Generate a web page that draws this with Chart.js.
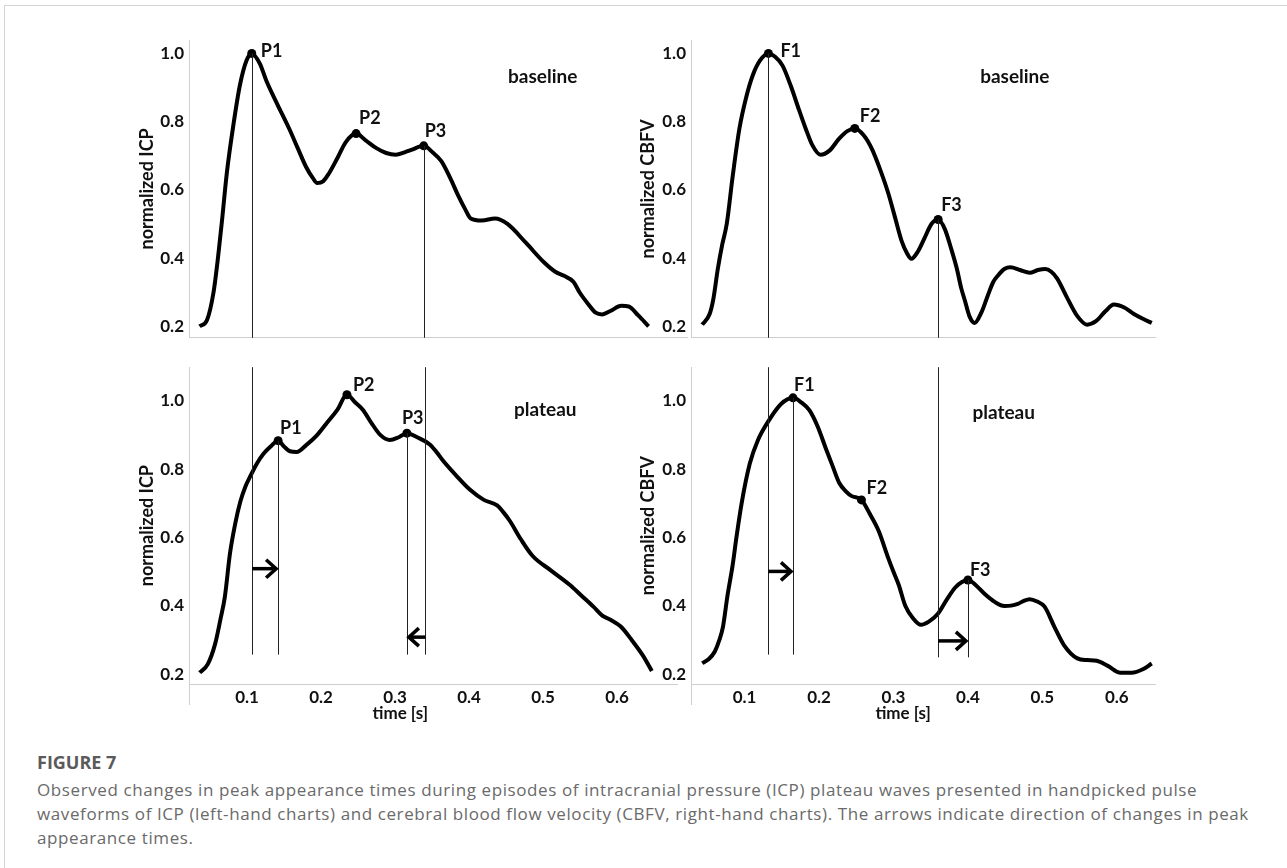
<!DOCTYPE html>
<html>
<head>
<meta charset="utf-8">
<script src="https://cdn.jsdelivr.net/npm/chart.js@4.4.1/dist/chart.umd.min.js"></script>
<style>
  body { margin: 0; background: #fff; width: 1287px; height: 868px; overflow: hidden; position: relative; }
  #frame { position: absolute; left: 4px; top: 5px; right: 0; bottom: 0; border-top: 1px solid #d3d3d3; border-left: 1px solid #d3d3d3; }
  canvas { position: absolute; }
  #tl { left: 130px; top: 0; }
  #bl { left: 130px; top: 352px; }
  #tr { left: 630px; top: 0; }
  #br { left: 630px; top: 352px; }
  #caption { position: absolute; left: 37px; top: 750px; font-family: "Open Sans", sans-serif; color: #666; }
  #caption .head { font-weight: bold; font-size: 18px; color: #5a5a5a; line-height: 24px; }
  #caption .text { font-size: 17px; letter-spacing: 0.6px; line-height: 24px; margin-top: 4px; color: #6a6a6a; }
</style>
</head>
<body>
<div id="frame"></div>
<canvas id="tl" width="562" height="353"></canvas>
<canvas id="tr" width="530" height="353"></canvas>
<canvas id="bl" width="562" height="388"></canvas>
<canvas id="br" width="530" height="388"></canvas>
<div id="caption">
  <div class="head">FIGURE 7</div>
  <div class="text">Observed changes in peak appearance times during episodes of intracranial pressure (ICP) plateau waves presented in handpicked pulse<br>waveforms of ICP (left-hand charts) and cerebral blood flow velocity (CBFV, right-hand charts). The arrows indicate direction of changes in peak<br>appearance times.</div>
</div>
<script>
// tick labels
var xTicks = [0.1, 0.2, 0.3, 0.4, 0.5, 0.6];
var yTicks = [0.2, 0.4, 0.6, 0.8, 1.0];

// ICP pulse, baseline (time [s], normalized ICP)
var icpBaseT = [0.036, 0.046, 0.055, 0.061, 0.067, 0.073, 0.082, 0.091, 0.100, 0.107, 0.118, 0.127, 0.142, 0.158, 0.170, 0.181, 0.190, 0.196, 0.204, 0.212, 0.224, 0.235, 0.249, 0.262, 0.276, 0.290, 0.303, 0.315, 0.324, 0.341, 0.353, 0.365, 0.377, 0.388, 0.397, 0.405, 0.420, 0.438, 0.455, 0.480, 0.505, 0.520, 0.532, 0.545, 0.553, 0.565, 0.575, 0.584, 0.595, 0.610, 0.620, 0.633, 0.647];
var icpBaseV = [0.200, 0.218, 0.300, 0.400, 0.520, 0.648, 0.790, 0.908, 0.980, 1.000, 0.970, 0.919, 0.850, 0.779, 0.720, 0.667, 0.635, 0.620, 0.625, 0.648, 0.695, 0.740, 0.765, 0.745, 0.723, 0.708, 0.703, 0.710, 0.717, 0.729, 0.710, 0.684, 0.635, 0.583, 0.545, 0.516, 0.510, 0.516, 0.500, 0.445, 0.387, 0.360, 0.348, 0.330, 0.300, 0.265, 0.240, 0.235, 0.245, 0.260, 0.258, 0.232, 0.200];

// ICP pulse, plateau
var icpPlatT = [0.036, 0.047, 0.057, 0.064, 0.070, 0.077, 0.084, 0.091, 0.098, 0.104, 0.113, 0.122, 0.132, 0.142, 0.150, 0.158, 0.167, 0.180, 0.195, 0.208, 0.222, 0.235, 0.246, 0.257, 0.268, 0.280, 0.293, 0.305, 0.316, 0.330, 0.347, 0.356, 0.365, 0.383, 0.401, 0.420, 0.438, 0.446, 0.455, 0.470, 0.486, 0.510, 0.536, 0.552, 0.568, 0.580, 0.591, 0.605, 0.620, 0.635, 0.647];
var icpPlatV = [0.205, 0.230, 0.290, 0.360, 0.426, 0.554, 0.640, 0.705, 0.750, 0.777, 0.815, 0.844, 0.866, 0.883, 0.866, 0.852, 0.850, 0.870, 0.900, 0.935, 0.973, 1.017, 0.995, 0.972, 0.935, 0.900, 0.885, 0.893, 0.905, 0.893, 0.872, 0.850, 0.824, 0.780, 0.740, 0.710, 0.694, 0.675, 0.649, 0.595, 0.546, 0.505, 0.462, 0.430, 0.398, 0.372, 0.360, 0.340, 0.300, 0.255, 0.210];

// CBFV pulse, baseline (normalized CBFV)
var cbfvBaseT = [0.043, 0.053, 0.058, 0.064, 0.070, 0.076, 0.084, 0.093, 0.102, 0.111, 0.121, 0.132, 0.141, 0.151, 0.162, 0.173, 0.182, 0.191, 0.202, 0.214, 0.227, 0.238, 0.248, 0.260, 0.271, 0.282, 0.293, 0.302, 0.311, 0.318, 0.324, 0.333, 0.342, 0.351, 0.360, 0.369, 0.378, 0.385, 0.391, 0.396, 0.402, 0.409, 0.418, 0.427, 0.434, 0.440, 0.449, 0.457, 0.470, 0.483, 0.494, 0.504, 0.512, 0.520, 0.533, 0.547, 0.560, 0.572, 0.585, 0.596, 0.610, 0.623, 0.635, 0.647];
var cbfvBaseV = [0.205, 0.236, 0.280, 0.368, 0.440, 0.500, 0.640, 0.779, 0.870, 0.936, 0.980, 1.000, 0.990, 0.964, 0.905, 0.835, 0.780, 0.731, 0.703, 0.715, 0.750, 0.772, 0.780, 0.760, 0.720, 0.660, 0.590, 0.520, 0.450, 0.415, 0.398, 0.420, 0.460, 0.500, 0.513, 0.485, 0.424, 0.370, 0.312, 0.275, 0.230, 0.210, 0.240, 0.292, 0.330, 0.348, 0.368, 0.373, 0.365, 0.357, 0.365, 0.368, 0.360, 0.340, 0.285, 0.230, 0.205, 0.215, 0.245, 0.264, 0.255, 0.236, 0.222, 0.210];

// CBFV pulse, plateau
var cbfvPlatT = [0.043, 0.052, 0.060, 0.066, 0.071, 0.077, 0.084, 0.089, 0.096, 0.107, 0.118, 0.132, 0.149, 0.165, 0.176, 0.187, 0.198, 0.209, 0.218, 0.227, 0.236, 0.244, 0.257, 0.268, 0.280, 0.293, 0.300, 0.307, 0.316, 0.326, 0.337, 0.348, 0.360, 0.372, 0.383, 0.392, 0.400, 0.411, 0.423, 0.436, 0.449, 0.458, 0.467, 0.475, 0.483, 0.493, 0.503, 0.516, 0.529, 0.547, 0.560, 0.573, 0.588, 0.605, 0.620, 0.635, 0.647];
var cbfvPlatV = [0.233, 0.245, 0.267, 0.300, 0.340, 0.430, 0.520, 0.600, 0.700, 0.816, 0.885, 0.940, 0.990, 1.008, 0.995, 0.972, 0.925, 0.861, 0.810, 0.760, 0.735, 0.721, 0.710, 0.670, 0.620, 0.540, 0.500, 0.462, 0.400, 0.365, 0.345, 0.355, 0.378, 0.420, 0.454, 0.470, 0.476, 0.460, 0.434, 0.412, 0.400, 0.401, 0.406, 0.415, 0.420, 0.413, 0.398, 0.340, 0.286, 0.247, 0.242, 0.240, 0.225, 0.205, 0.205, 0.215, 0.232];

// marked peaks
var icpBasePeakT = [0.107, 0.249, 0.341];
var icpBasePeakV = [1.000, 0.765, 0.729];
var icpPlatPeakT = [0.142, 0.235, 0.316];
var icpPlatPeakV = [0.883, 1.017, 0.905];
var cbfvBasePeakT = [0.132, 0.248, 0.360];
var cbfvBasePeakV = [1.000, 0.780, 0.513];
var cbfvPlatPeakT = [0.165, 0.257, 0.400];
var cbfvPlatPeakV = [1.008, 0.710, 0.476];
var icpPeakNames = ['P1', 'P2', 'P3'];
var cbfvPeakNames = ['F1', 'F2', 'F3'];

// level where the drop lines end, and levels of the shift arrows
var icpLineEnd = [0.258, 0.258];
var cbfvLineEnd = [0.258, 0.250];
var icpArrowV = [0.509, 0.309];
var cbfvArrowV = [0.501, 0.298];

var tickFont = { family: 'Lato', size: 17, weight: 'bold' };
var axisColor = '#cfcfcf';

var overlay = {
  id: 'overlay',
  afterDatasetsDraw: function(chart, args, o) {
    var ctx = chart.ctx, a = chart.chartArea, x = chart.scales.x, y = chart.scales.y;
    ctx.save();
    // drop lines through the peaks
    ctx.strokeStyle = '#222';
    ctx.lineWidth = 1;
    (o.lines || []).forEach(function(l) {
      var px = Math.round(x.getPixelForValue(l.t)) + 0.5;
      var y1 = l.from == null ? a.top : y.getPixelForValue(l.from);
      var y2 = l.to == null ? a.bottom : y.getPixelForValue(l.to);
      ctx.beginPath(); ctx.moveTo(px, y1); ctx.lineTo(px, y2); ctx.stroke();
    });
    // arrows
    ctx.lineWidth = 3.5;
    ctx.strokeStyle = '#000';
    (o.arrows || []).forEach(function(ar) {
      var x1 = x.getPixelForValue(ar.from), x2 = x.getPixelForValue(ar.to);
      var py = y.getPixelForValue(ar.v);
      var d = x2 > x1 ? 1 : -1;
      ctx.beginPath(); ctx.moveTo(x1, py); ctx.lineTo(x2 - d * 2, py); ctx.stroke();
      ctx.beginPath();
      ctx.moveTo(x2 - d * 12, py - 9); ctx.lineTo(x2 - d * 2, py); ctx.lineTo(x2 - d * 12, py + 9);
      ctx.stroke();
    });
    // peak names
    ctx.fillStyle = '#111';
    ctx.font = 'bold 18px Lato';
    ctx.textAlign = 'left';
    ctx.textBaseline = 'middle';
    (o.names || []).forEach(function(n, i) {
      ctx.fillText(n, x.getPixelForValue(o.peakT[i]) + o.nameOff[i][0], y.getPixelForValue(o.peakV[i]) + o.nameOff[i][1]);
    });
    // panel name
    ctx.font = 'bold 19px Lato';
    ctx.textAlign = 'center';
    ctx.fillText(o.title, x.getPixelForValue(o.titleAt[0]), y.getPixelForValue(o.titleAt[1]));
    // time axis title and the y axis running on below the time axis
    if (o.xTitleAt != null) {
      ctx.font = 'bold 17px Lato';
      ctx.fillText('time [s]', x.getPixelForValue(o.xTitleAt), a.bottom + 30);
      ctx.strokeStyle = axisColor; ctx.lineWidth = 1;
      ctx.beginPath(); ctx.moveTo(a.left + 0.5, a.bottom); ctx.lineTo(a.left + 0.5, a.bottom + 21); ctx.stroke();
    }
    ctx.restore();
  }
};

function pts(ts, vs) {
  return ts.map(function(t, i) { return { x: t, y: vs[i] }; });
}

function panel(id, c) {
  var bottom = c.bottomRow;
  return new Chart(document.getElementById(id), {
    type: 'line',
    data: {
      datasets: [{
        data: pts(c.t, c.v),
        borderColor: '#000',
        borderWidth: 4,
        pointRadius: 0,
        cubicInterpolationMode: 'monotone',
        fill: false
      }, {
        data: pts(c.peakT, c.peakV),
        showLine: false,
        pointRadius: 4.5,
        pointBorderWidth: 0,
        pointBackgroundColor: '#000'
      }]
    },
    options: {
      responsive: false,
      animation: false,
      events: [],
      layout: { padding: c.pad },
      plugins: {
        legend: { display: false },
        tooltip: { enabled: false },
        overlay: c.overlay
      },
      scales: {
        x: {
          type: 'linear',
          min: c.xMin,
          max: c.xMax,
          afterBuildTicks: function(s) { s.ticks = xTicks.map(function(v) { return { value: v }; }); },
          ticks: { display: bottom, font: tickFont, color: '#111', padding: 3, maxRotation: 0,
                   callback: function(v) { return v.toFixed(1); } },
          grid: { display: false, drawTicks: false },
          border: { color: axisColor },
          afterFit: function(s) { s.height = bottom ? 56 : 0; }
        },
        y: {
          min: c.yMin,
          max: c.yMax,
          afterBuildTicks: function(s) { s.ticks = yTicks.map(function(v) { return { value: v }; }); },
          ticks: { font: tickFont, color: '#111', padding: 5, callback: function(v) { return v.toFixed(1); } },
          grid: { display: false, drawTicks: false },
          border: { color: axisColor },
          title: { display: true, text: c.yTitle, font: { family: 'Lato', size: 18, weight: 'bold' }, color: '#111', padding: { top: c.titlePad, bottom: 0 } },
          afterFit: function(s) { s.width = c.axisW; }
        }
      }
    },
    plugins: [overlay]
  });
}

// ICP baseline (top left)
panel('tl', {
  t: icpBaseT, v: icpBaseV, peakT: icpBasePeakT, peakV: icpBasePeakV,
  xMin: 0.0216, xMax: 0.700, yMin: 0.1664, yMax: 1.0392,
  pad: { left: 0, right: 1, top: 40, bottom: 1 }, axisW: 59, titlePad: 6,
  yTitle: 'normalized ICP', bottomRow: false,
  overlay: {
    lines: [{ t: icpBasePeakT[0], from: icpBasePeakV[0] }, { t: icpBasePeakT[2], from: icpBasePeakV[2] }],
    names: icpPeakNames, peakT: icpBasePeakT, peakV: icpBasePeakV,
    nameOff: [[9, -2], [3, -15], [1, -15]],
    title: 'baseline', titleAt: [0.503, 0.93]
  }
});

// ICP plateau (bottom left)
panel('bl', {
  t: icpPlatT, v: icpPlatV, peakT: icpPlatPeakT, peakV: icpPlatPeakV,
  xMin: 0.0216, xMax: 0.681, yMin: 0.1721, yMax: 1.0976,
  pad: { left: 0, right: 15, top: 0, bottom: 0 }, axisW: 59, titlePad: 6,
  yTitle: 'normalized ICP', bottomRow: true,
  overlay: {
    lines: [
      { t: icpBasePeakT[0], to: icpLineEnd[0] }, { t: icpBasePeakT[2], to: icpLineEnd[1] },
      { t: icpPlatPeakT[0], from: icpPlatPeakV[0], to: icpLineEnd[0] }, { t: icpPlatPeakT[2], from: icpPlatPeakV[2], to: icpLineEnd[1] }
    ],
    arrows: [
      { from: icpBasePeakT[0], to: icpPlatPeakT[0], v: icpArrowV[0] },
      { from: icpBasePeakT[2], to: icpPlatPeakT[2], v: icpArrowV[1] }
    ],
    names: icpPeakNames, peakT: icpPlatPeakT, peakV: icpPlatPeakV,
    nameOff: [[2, -12], [6, -10], [-5, -15]],
    title: 'plateau', titleAt: [0.503, 0.972], xTitleAt: 0.307
  }
});

// CBFV baseline (top right)
panel('tr', {
  t: cbfvBaseT, v: cbfvBaseV, peakT: cbfvBasePeakT, peakV: cbfvBasePeakV,
  xMin: 0.028, xMax: 0.652, yMin: 0.1664, yMax: 1.0392,
  pad: { left: 0, right: 1, top: 40, bottom: 1 }, axisW: 61, titlePad: 7,
  yTitle: 'normalized CBFV', bottomRow: false,
  overlay: {
    lines: [{ t: cbfvBasePeakT[0], from: cbfvBasePeakV[0] }, { t: cbfvBasePeakT[2], from: cbfvBasePeakV[2] }],
    names: cbfvPeakNames, peakT: cbfvBasePeakT, peakV: cbfvBasePeakV,
    nameOff: [[12, -2], [5, -12], [3, -14]],
    title: 'baseline', titleAt: [0.463, 0.93]
  }
});

// CBFV plateau (bottom right)
panel('br', {
  t: cbfvPlatT, v: cbfvPlatV, peakT: cbfvPlatPeakT, peakV: cbfvPlatPeakV,
  xMin: 0.028, xMax: 0.652, yMin: 0.1721, yMax: 1.0976,
  pad: { left: 0, right: 1, top: 0, bottom: 0 }, axisW: 61, titlePad: 7,
  yTitle: 'normalized CBFV', bottomRow: true,
  overlay: {
    lines: [
      { t: cbfvBasePeakT[0], to: cbfvLineEnd[0] }, { t: cbfvBasePeakT[2], to: cbfvLineEnd[1] },
      { t: cbfvPlatPeakT[0], from: cbfvPlatPeakV[0], to: cbfvLineEnd[0] }, { t: cbfvPlatPeakT[2], from: cbfvPlatPeakV[2], to: cbfvLineEnd[1] }
    ],
    arrows: [
      { from: cbfvBasePeakT[0], to: cbfvPlatPeakT[0], v: cbfvArrowV[0] },
      { from: cbfvBasePeakT[2], to: cbfvPlatPeakT[2], v: cbfvArrowV[1] }
    ],
    names: cbfvPeakNames, peakT: cbfvPlatPeakT, peakV: cbfvPlatPeakV,
    nameOff: [[1, -13], [5, -12], [2, -10]],
    title: 'plateau', titleAt: [0.448, 0.964], xTitleAt: 0.313
  }
});
</script>
</body>
</html>
